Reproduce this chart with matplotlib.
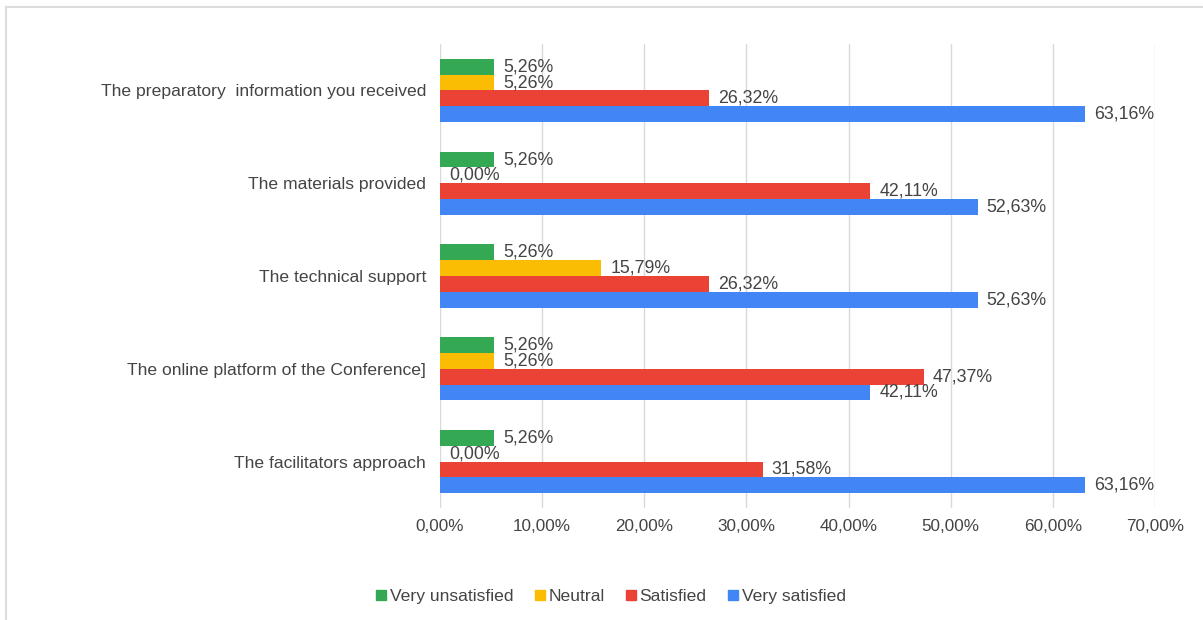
import matplotlib
matplotlib.use("Agg")
import matplotlib.pyplot as plt
from matplotlib.lines import Line2D
from matplotlib.ticker import FuncFormatter
import numpy as np

plt.rcParams['font.family'] = ['Liberation Sans', 'DejaVu Sans']

# data
categories = ["The preparatory  information you received",
              "The materials provided",
              "The technical support",
              "The online platform of the Conference]",
              "The facilitators approach"]
series = ["Very unsatisfied", "Neutral", "Satisfied", "Very satisfied"]
very_unsatisfied = [5.26, 5.26, 5.26, 5.26, 5.26]
neutral = [5.26, 0.00, 15.79, 5.26, 0.00]
satisfied = [26.32, 42.11, 26.32, 47.37, 31.58]
very_satisfied = [63.16, 52.63, 52.63, 42.11, 63.16]
colors = ["#34A853", "#FBBC04", "#EA4335", "#4285F4"]

values = [very_unsatisfied, neutral, satisfied, very_satisfied]
txt = "#444444"

fig = plt.figure(figsize=(12.03, 6.2), dpi=100)
ax = fig.add_axes([440/1203, 1-508/620, 715/1203, 464/620])

y = np.arange(len(categories))
h = 0.17
for i, (vals, c, name) in enumerate(zip(values, colors, series)):
    pos = y + (i - 1.5) * h
    ax.barh(pos, vals, height=h, color=c, label=name, zorder=3)
    for p, v in zip(pos, vals):
        ax.text(v + 0.9, p, ("%.2f%%" % v).replace(".", ","), va="center",
                ha="left", fontsize=12.8, color=txt, zorder=4)

ax.set_xlim(0, 70)
ax.set_ylim(len(categories) - 0.5, -0.5)
ax.set_xticks(np.arange(0, 71, 10))
ax.xaxis.set_major_formatter(FuncFormatter(lambda v, p: ("%.2f%%" % v).replace(".", ",")))
ax.set_yticks(y)
ax.set_yticklabels(categories)
ax.tick_params(axis="x", length=0, pad=8, labelsize=12.3, labelcolor=txt)
ax.tick_params(axis="y", length=0, pad=10, labelsize=12.6, labelcolor=txt)
ax.grid(axis="x", color="#d9d9d9", linewidth=1, zorder=0)
for s in ax.spines.values():
    s.set_visible(False)

handles = [Line2D([], [], marker="s", linestyle="none", markersize=7, color=c) for c in colors]
fig.legend(handles, series, loc="center", bbox_to_anchor=(609/1203, 1-596/620), ncol=4,
           frameon=False, fontsize=12.6, handletextpad=0.0, columnspacing=1.0,
           labelcolor=txt, handlelength=1)

# frame lines from the screenshot
fig.add_artist(Line2D([5.5/1203, 5.5/1203], [0, 1-6.5/620], transform=fig.transFigure, color="#dddddd", lw=1.5))
fig.add_artist(Line2D([5.5/1203, 1], [1-6.5/620, 1-6.5/620], transform=fig.transFigure, color="#dddddd", lw=1.5))

fig.savefig("out.png", dpi=100)
